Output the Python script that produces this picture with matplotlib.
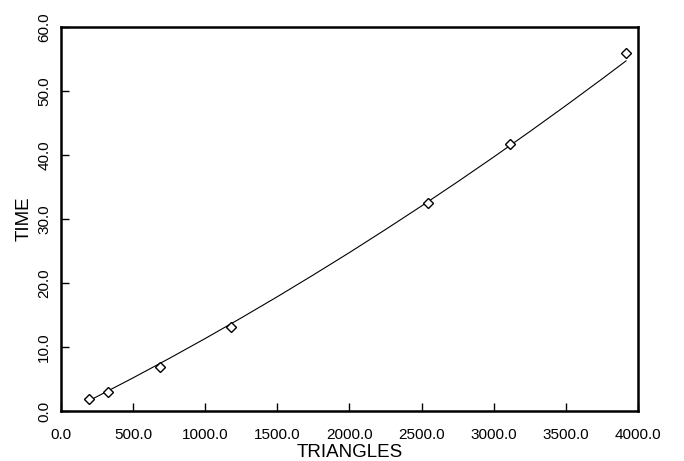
import numpy as np
import matplotlib
matplotlib.use('Agg')
import matplotlib.pyplot as plt

plt.rcParams['font.family'] = ['Liberation Sans', 'DejaVu Sans']

# measured points
triangles = [194, 326, 686, 1178, 2544, 3113, 3917]
time = [1.9, 3.0, 6.9, 13.1, 32.5, 41.7, 55.9]

# fitted curve
curve_x = [194, 500, 750, 1000, 1250, 1500, 1750, 2000, 2250, 2500,
           2750, 3000, 3250, 3500, 3750, 3917]
curve_y = [1.6, 5.18, 8.21, 11.33, 14.55, 17.86, 21.27, 24.76, 28.36, 32.04,
           35.82, 39.69, 43.66, 47.72, 51.87, 54.7]

xticks = [0, 500, 1000, 1500, 2000, 2500, 3000, 3500, 4000]
yticks = [0, 10, 20, 30, 40, 50, 60]

fig = plt.figure(figsize=(6.84, 4.61), dpi=100)
ax = fig.add_axes([0.0892, 0.1085, 0.8435, 0.8329])

ax.plot(curve_x, curve_y, color='black', lw=0.8)
ax.plot(triangles, time, linestyle='none', marker='D', markersize=5,
        markerfacecolor='white', markeredgecolor='black', markeredgewidth=1.0)

ax.set_xlim(0, 4000)
ax.set_ylim(0, 60)
ax.set_xticks(xticks)
ax.set_xticklabels([f'{v:.1f}' for v in xticks])
ax.set_yticks(yticks)
ax.set_yticklabels([f'{v:.1f}' for v in yticks], rotation=90, va='center')

ax.tick_params(direction='in', length=6, width=1, labelsize=11)
ax.tick_params(axis='x', pad=12)
ax.tick_params(axis='y', pad=7)
for s in ax.spines.values():
    s.set_linewidth(1.8)

ax.set_xlabel('TRIANGLES', fontsize=13.5, labelpad=2)
ax.set_ylabel('TIME', fontsize=13.5, labelpad=3)

plt.savefig('out.png', dpi=100)
